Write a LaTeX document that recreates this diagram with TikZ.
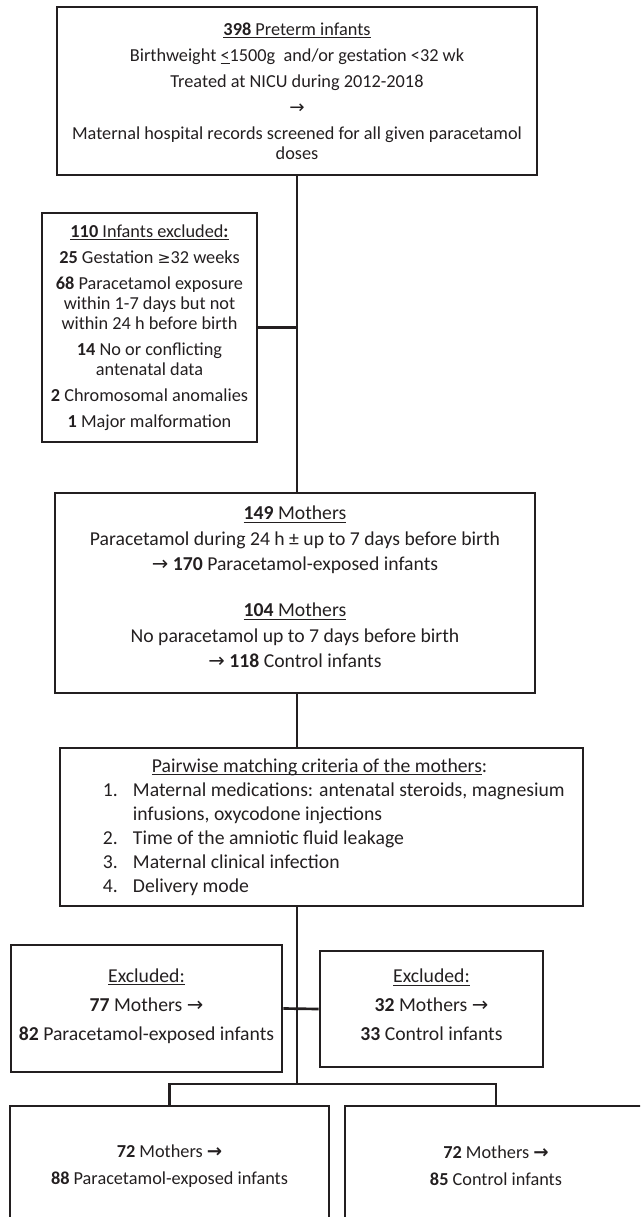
\documentclass[tikz,border=0pt]{standalone}
\usepackage{fontspec}
\usepackage{graphicx}
\setmainfont{Carlito}
\newfontfamily\symfont{DejaVu Sans}
\usetikzlibrary{arrows.meta, positioning, calc}
\definecolor{ink}{RGB}{35,31,32}
\newcommand{\thinarrow}{{\symfont →}}
\newcommand{\boldarrow}{{\symfont\bfseries →}}
\newcommand{\geqsym}{{\symfont\scalebox{0.85}{≥}}}
\newcommand{\ultext}[1]{\setbox0=\hbox{#1}\rlap{\copy0}\rule[-2pt]{\wd0}{0.6pt}}
\newcommand{\critem}[2]{\hspace*{0.975cm}\makebox[0.75cm][l]{#1}#2}
\tikzset{
    flowchart/.style={x=0.025cm, y=-0.025cm, color=ink, line width=1.9pt},
    box/.style={draw, rectangle, align=center, inner sep=0pt},
    link/.style={draw},
}

\begin{document}
\begin{tikzpicture}[flowchart]
    \useasboundingbox (0,0) rectangle (640,1217);
    \clip (0,0) rectangle (640,1217);

    \node[box, minimum width=12cm, minimum height=4.2cm, font=\fontsize{13}{14}\selectfont] (screen) at (297,91)
        {\ultext{\textbf{398} Preterm infants}\\[4.5pt]
         Birthweight \ultext{<}1500g\ \ and/or gestation <32 wk\\[4.5pt]
         Treated at NICU during 2012-2018\\[4.5pt]
         \thinarrow\\[4.5pt]
         Maternal hospital records screened for all given paracetamol\\
         doses};

    \node[box, minimum width=5.375cm, minimum height=5.725cm, font=\fontsize{13}{14.2}\selectfont] (excl) at (149.5,327.5)
        {\ultext{\textbf{110} Infants excluded\textbf{:}}\\[4.3pt]
         \textbf{25} Gestation \geqsym32 weeks\\[4.3pt]
         \textbf{68} Paracetamol exposure\\ within 1-7 days but not\\ within 24 h before birth\\[4.3pt]
         \textbf{14} No or conflicting\\ antenatal data\\[4.3pt]
         \textbf{2} Chromosomal anomalies\\[4.3pt]
         \textbf{1} Major malformation};

    \node[box, minimum width=12cm, minimum height=5cm, text depth=9pt, font=\fontsize{14}{17.8}\selectfont] (mothers) at (295,593)
        {\ultext{\textbf{149} Mothers}\\
         Paracetamol during 24 h ± up to 7 days before birth\\
         \thinarrow\ \textbf{170} Paracetamol-exposed infants\\[15.6pt]
         \ultext{\textbf{104} Mothers}\\
         No paracetamol up to 7 days before birth\\
         \thinarrow\ \textbf{118} Control infants};

    \node[box, align=flush left, text width=12.875cm, inner xsep=0.1cm, minimum height=3.95cm, font=\fontsize{14}{17}\selectfont] (match) at (321.5,827)
        {\hspace*{2.2cm}\ultext{Pairwise matching criteria of the mothers}:\\
         \critem{1.}{Maternal medications: antenatal steroids, magnesium}\\
         \hspace*{1.725cm}infusions, oxycodone injections\\
         \critem{2.}{Time of the amniotic fluid leakage}\\
         \critem{3.}{Maternal clinical infection}\\
         \critem{4.}{Delivery mode}};

    \node[box, minimum width=6.775cm, minimum height=3.175cm, text depth=6pt, font=\fontsize{14}{20.6}\selectfont] (exclA) at (146.5,1008.5)
        {\ultext{Excluded:}\\ \textbf{77} Mothers \thinarrow\\ \textbf{82} Paracetamol-exposed infants};

    \node[box, minimum width=5.575cm, minimum height=2.9cm, text depth=6pt, font=\fontsize{14}{20.6}\selectfont] (exclB) at (431.5,1009)
        {\ultext{Excluded:}\\ \textbf{32} Mothers \thinarrow\\ \textbf{33} Control infants};

    \node[box, minimum width=7.975cm, minimum height=3cm, font=\fontsize{13}{19}\selectfont] (finA) at (169.5,1166)
        {\textbf{72} Mothers \boldarrow\\ \textbf{88} Paracetamol-exposed infants};

    \node[box, minimum width=7.55cm, minimum height=3cm, font=\fontsize{13}{19}\selectfont] (finB) at (496,1166)
        {\textbf{72} Mothers \boldarrow\\ \textbf{85} Control infants};

    \coordinate (split) at (297,1084);

    \draw[link] (screen.south) -- (screen.south |- mothers.north);
    \draw[link] (excl.east) -- (excl.east -| screen.south);
    \draw[link] (screen.south |- mothers.south) -- (screen.south |- match.north);
    \draw[link] (screen.south |- match.south) -- (split);
    \draw[link] (exclA.east) -- (exclB.west);
    \draw[link] (split) -| (finA.north);
    \draw[link] (split) -| (finB.north);
\end{tikzpicture}
\end{document}
